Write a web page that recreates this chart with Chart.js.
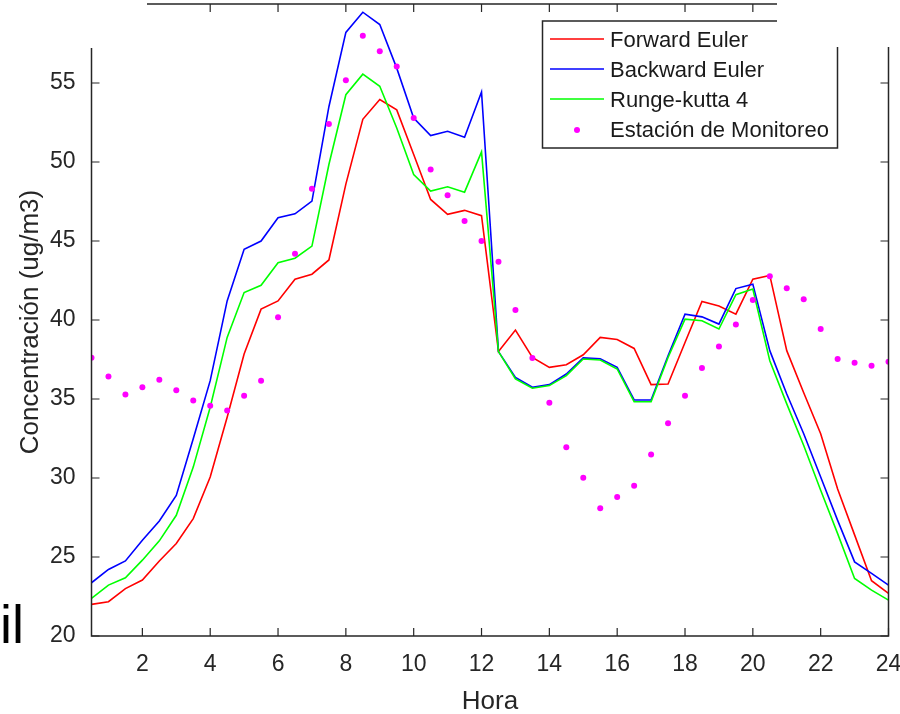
<!DOCTYPE html>
<html><head><meta charset="utf-8">
<script src="https://cdn.jsdelivr.net/npm/chart.js@4.4.1/dist/chart.umd.min.js"></script>
<style>html,body{margin:0;padding:0;background:#fff;overflow:hidden}</style>
</head><body>
<canvas id="c" width="900" height="714"></canvas>
<script>
const hours = [0.5,1,1.5,2,2.5,3,3.5,4,4.5,5,5.5,6,6.5,7,7.5,8,8.5,9,9.5,10,10.5,11,11.5,12,12.5,13,13.5,14,14.5,15,15.5,16,16.5,17,17.5,18,18.5,19,19.5,20,20.5,21,21.5,22,22.5,23,23.5,24];
const forwardEuler = [22.0,22.17,23.0,23.54,24.75,25.85,27.43,30.06,33.85,37.85,40.69,41.21,42.58,42.9,43.8,48.6,52.7,53.95,53.3,50.48,47.63,46.69,46.94,46.6,38.0,39.36,37.63,37.0,37.17,37.8,38.9,38.77,38.2,35.91,35.95,38.58,41.17,40.89,40.37,42.58,42.82,38.06,35.4,32.8,29.3,26.4,23.5,22.7];
const backwardEuler = [23.37,24.21,24.75,26.06,27.28,28.9,32.48,36.16,41.21,44.48,45.0,46.47,46.72,47.53,53.5,58.2,59.48,58.7,55.94,52.78,51.67,51.94,51.57,54.43,38.0,36.37,35.74,35.91,36.58,37.6,37.55,37.0,34.94,34.94,37.74,40.37,40.2,39.74,41.99,42.27,38.06,35.32,32.8,30.06,27.32,24.69,23.96,23.22];
const rungeKutta4 = [22.38,23.22,23.68,24.8,26.02,27.64,30.69,34.48,38.9,41.74,42.2,43.63,43.91,44.68,49.84,54.26,55.56,54.79,52.15,49.2,48.16,48.43,48.09,50.64,38.0,36.27,35.68,35.85,36.48,37.53,37.47,36.9,34.83,34.83,37.63,40.05,39.95,39.43,41.6,41.96,37.42,34.69,32.06,29.22,26.48,23.64,22.9,22.27];
const monitoreo = [37.61,36.43,35.28,35.74,36.22,35.55,34.9,34.58,34.27,35.21,36.16,40.18,44.2,48.3,52.4,55.18,57.99,57.01,56.05,52.78,49.53,47.9,46.26,45.0,43.69,40.64,37.6,34.77,31.95,30.02,28.08,28.79,29.51,31.49,33.47,35.21,36.96,38.33,39.72,41.26,42.77,42.01,41.31,39.43,37.53,37.3,37.11,37.36];
const seriesLabels = ['Forward Euler','Backward Euler','Runge-kutta 4','Estación de Monitoreo'];
const xTicks = [2,4,6,8,10,12,14,16,18,20,22,24];
const yTicks = [20,25,30,35,40,45,50,55,60];
const xTitle = 'Hora';
const yTitle = 'Concentración (ug/m3)';

const pts = arr => hours.map((h,i)=>({x:h,y:arr[i]}));
const AX = '#262626';
const FONT = '"Liberation Sans", Arial, Helvetica, sans-serif';

const framePlugin = {
  id:'frame',
  afterDraw(chart){
    const {ctx, chartArea:a, scales:{x,y}} = chart;
    ctx.save();
    // box
    ctx.strokeStyle = AX; ctx.lineWidth = 1.5;
    ctx.beginPath();
    ctx.moveTo(a.left,a.top); ctx.lineTo(a.right,a.top); ctx.lineTo(a.right,a.bottom);
    ctx.lineTo(a.left,a.bottom); ctx.closePath();
    ctx.stroke();
    // inward ticks
    ctx.lineWidth = 1.2;
    ctx.beginPath();
    xTicks.forEach(v=>{const px=x.getPixelForValue(v);
      ctx.moveTo(px,a.bottom); ctx.lineTo(px,a.bottom-8);
      ctx.moveTo(px,a.top); ctx.lineTo(px,a.top+8);});
    yTicks.forEach(v=>{const py=y.getPixelForValue(v);
      ctx.moveTo(a.left,py); ctx.lineTo(a.left+8,py);
      ctx.moveTo(a.right,py); ctx.lineTo(a.right-8,py);});
    ctx.stroke();
    // legend
    const ds = chart.data.datasets;
    ctx.fillStyle = '#fff';
    ctx.fillRect(542.5,21,295,127);
    ctx.strokeStyle = AX; ctx.lineWidth = 1.5;
    ctx.strokeRect(542.5,21,295,127);
    const rows = [40,70,100,130];
    ctx.font = '22px ' + FONT;
    ctx.textBaseline = 'middle'; ctx.textAlign = 'left';
    for (let i=0;i<4;i++){
      const d = ds[i];
      if (i<3){
        ctx.strokeStyle = d.borderColor; ctx.lineWidth = 1.6;
        ctx.beginPath(); ctx.moveTo(550,rows[i]-1); ctx.lineTo(604,rows[i]-1); ctx.stroke();
      } else {
        ctx.fillStyle = d.pointBackgroundColor;
        ctx.beginPath(); ctx.arc(577,rows[i],3,0,Math.PI*2); ctx.fill();
      }
      ctx.fillStyle = '#1a1a1a';
      ctx.fillText(d.label, 610, rows[i]+1);
    }
    // whiteouts (collage crop)
    ctx.fillStyle = '#fff';
    ctx.fillRect(0,0,147,48);
    ctx.fillRect(777,0,123,47);
    // axis titles
    ctx.fillStyle = AX;
    ctx.font = '26px ' + FONT;
    ctx.textAlign = 'center'; ctx.textBaseline = 'alphabetic';
    ctx.fillText(xTitle, (a.left+a.right)/2, 709);
    ctx.save();
    ctx.translate(38, (a.top+a.bottom)/2 + 2);
    ctx.rotate(-Math.PI/2);
    ctx.fillText(yTitle, 0, 0);
    ctx.restore();
    // stray text from collage
    ctx.fillStyle = '#000';
    ctx.font = '54px ' + FONT;
    ctx.textAlign = 'left';
    ctx.fillText('il', 0, 643);
    ctx.restore();
  }
};

new Chart(document.getElementById('c'), {
  type:'line',
  data:{ datasets:[
    {label:seriesLabels[0], data:pts(forwardEuler), borderColor:'#ff0000', backgroundColor:'#ff0000', borderWidth:1.6, pointRadius:0, tension:0, order:3},
    {label:seriesLabels[1], data:pts(backwardEuler), borderColor:'#0000ff', backgroundColor:'#0000ff', borderWidth:1.6, pointRadius:0, tension:0, order:2},
    {label:seriesLabels[2], data:pts(rungeKutta4), borderColor:'#00ff00', backgroundColor:'#00ff00', borderWidth:1.6, pointRadius:0, tension:0, order:1},
    {label:seriesLabels[3], data:pts(monitoreo), showLine:false, borderColor:'#ff00ff', backgroundColor:'#ff00ff', pointBackgroundColor:'#ff00ff', pointBorderWidth:0, pointRadius:3, order:0}
  ]},
  options:{
    responsive:false, animation:false, devicePixelRatio:1,
    layout:{padding:{left:0,right:11.5,top:4,bottom:0}},
    plugins:{legend:{display:false}, tooltip:{enabled:false}},
    scales:{
      x:{type:'linear', min:0.5, max:24,
        grid:{display:false, drawTicks:false}, border:{display:false},
        afterBuildTicks:s=>{s.ticks = xTicks.map(v=>({value:v}));},
        afterFit:s=>{s.height = 78; s.paddingLeft = 0; s.paddingRight = 0;},
        ticks:{autoSkip:false, maxRotation:0, padding:15, color:AX, font:{family:FONT, size:23}, callback:v=>String(v)}
      },
      y:{type:'linear', min:20, max:60,
        grid:{display:false, drawTicks:false}, border:{display:false},
        afterBuildTicks:s=>{s.ticks = yTicks.map(v=>({value:v}));},
        afterFit:s=>{s.width = 91.5; s.paddingTop = 0; s.paddingBottom = 0;},
        ticks:{autoSkip:false, padding:16, color:AX, font:{family:FONT, size:23}, callback:v=>String(v)}
      }
    }
  },
  plugins:[framePlugin]
});
</script>
</body></html>
